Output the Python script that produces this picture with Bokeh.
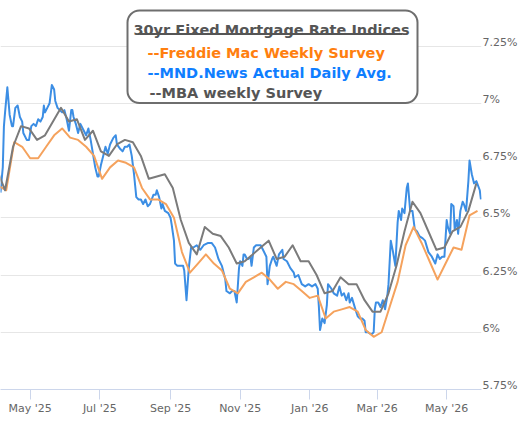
import pandas as pd
from bokeh.plotting import figure
from bokeh.models import (Range1d, LinearAxis, DatetimeAxis, FixedTicker, MonthsTicker,
                          DatetimeTickFormatter, Grid, BoxAnnotation, Label, ColumnDataSource)
from bokeh.embed import file_html
from bokeh.resources import INLINE

# ---------------- data ----------------
chart_title = "30yr Fixed Mortgage Rate Indices"
legend_labels = ["--Freddie Mac Weekly Survey", "--MND.News Actual Daily Avg.", "--MBA weekly Survey"]

# Freddie Mac weekly survey (Thursdays starting 2025-04-03)
freddie_first = "2025-04-03"
freddie_values = [6.64, 6.62, 6.83, 6.81, 6.76, 6.76, 6.81, 6.86, 6.89, 6.85,
                  6.84, 6.81, 6.77, 6.67, 6.72, 6.75, 6.74, 6.72, 6.63, 6.58,
                  6.58, 6.56, 6.50, 6.35, 6.26, 6.30, 6.34, 6.30, 6.27, 6.19,
                  6.17, 6.22, 6.24, 6.26, 6.23, 6.19, 6.22, 6.21, 6.18, 6.15,
                  6.16, 6.06, 6.09, 6.10, 6.11, 6.09, 6.01, 5.98, 6.00, 6.11,
                  6.22, 6.38, 6.46, 6.39, 6.31, 6.23, 6.30, 6.37, 6.36, 6.51,
                  6.53]

# MBA weekly survey (Wednesdays starting 2025-04-02)
mba_first = "2025-04-02"
mba_values = [6.71, 6.62, 6.81, 6.90, 6.89, 6.84, 6.86, 6.92, 6.98, 6.92,
              6.93, 6.84, 6.88, 6.79, 6.77, 6.82, 6.84, 6.83, 6.77, 6.67,
              6.68, 6.69, 6.63, 6.49, 6.39, 6.34, 6.46, 6.43, 6.42, 6.37,
              6.30, 6.31, 6.34, 6.37, 6.40, 6.32, 6.33, 6.38, 6.31, 6.31,
              6.25, 6.17, 6.18, 6.24, 6.21, 6.21, 6.14, 6.09, 6.09, 6.17,
              6.29, 6.44, 6.57, 6.52, 6.44, 6.36, 6.37, 6.44, 6.46, 6.53,
              6.65]

# MND daily index
mnd_dates = [
    "2025-04-05", "2025-04-07", "2025-04-08", "2025-04-09", "2025-04-11", "2025-04-13",
    "2025-04-15", "2025-04-16", "2025-04-18", "2025-04-20", "2025-04-22", "2025-04-24",
    "2025-04-25", "2025-04-28", "2025-04-30", "2025-05-02", "2025-05-04", "2025-05-06",
    "2025-05-08", "2025-05-10", "2025-05-12", "2025-05-13", "2025-05-14", "2025-05-16",
    "2025-05-18", "2025-05-20", "2025-05-22", "2025-05-23", "2025-05-25", "2025-05-27",
    "2025-05-29", "2025-05-31", "2025-06-02", "2025-06-04", "2025-06-06", "2025-06-07",
    "2025-06-08", "2025-06-10", "2025-06-12", "2025-06-14", "2025-06-17", "2025-06-19",
    "2025-06-21", "2025-06-23", "2025-06-25", "2025-06-27", "2025-06-29", "2025-06-30",
    "2025-07-02", "2025-07-04", "2025-07-06", "2025-07-08", "2025-07-10", "2025-07-13",
    "2025-07-15", "2025-07-16", "2025-07-19", "2025-07-21", "2025-07-23", "2025-07-25",
    "2025-07-27", "2025-07-29", "2025-07-31", "2025-08-02", "2025-08-04", "2025-08-06",
    "2025-08-08", "2025-08-10", "2025-08-12", "2025-08-14", "2025-08-17", "2025-08-19",
    "2025-08-20", "2025-08-22", "2025-08-24", "2025-08-25", "2025-08-27", "2025-08-30",
    "2025-09-01", "2025-09-02", "2025-09-04", "2025-09-05", "2025-09-07", "2025-09-10",
    "2025-09-12", "2025-09-13", "2025-09-15", "2025-09-17", "2025-09-19", "2025-09-21",
    "2025-09-24", "2025-09-27", "2025-09-30", "2025-10-04", "2025-10-07", "2025-10-10",
    "2025-10-13", "2025-10-16", "2025-10-19", "2025-10-20", "2025-10-23", "2025-10-25",
    "2025-10-27", "2025-10-29", "2025-10-31", "2025-11-01", "2025-11-03", "2025-11-04",
    "2025-11-05", "2025-11-07", "2025-11-08", "2025-11-10", "2025-11-11", "2025-11-13",
    "2025-11-15", "2025-11-17", "2025-11-19", "2025-11-21", "2025-11-24", "2025-11-25",
    "2025-11-27", "2025-11-29", "2025-11-30", "2025-12-03", "2025-12-05", "2025-12-08",
    "2025-12-09", "2025-12-12", "2025-12-15", "2025-12-18", "2025-12-19", "2025-12-22",
    "2025-12-25", "2025-12-28", "2025-12-31", "2026-01-03", "2026-01-06", "2026-01-08",
    "2026-01-09", "2026-01-10", "2026-01-12", "2026-01-14", "2026-01-16", "2026-01-17",
    "2026-01-20", "2026-01-22", "2026-01-25", "2026-01-27", "2026-01-29", "2026-01-31",
    "2026-02-02", "2026-02-04", "2026-02-05", "2026-02-07", "2026-02-10", "2026-02-12",
    "2026-02-14", "2026-02-16", "2026-02-18", "2026-02-19", "2026-02-21", "2026-02-24",
    "2026-02-26", "2026-02-27", "2026-02-28", "2026-03-02", "2026-03-04", "2026-03-06",
    "2026-03-08", "2026-03-10", "2026-03-11", "2026-03-13", "2026-03-15", "2026-03-17",
    "2026-03-19", "2026-03-20", "2026-03-22", "2026-03-23", "2026-03-25", "2026-03-27",
    "2026-03-28", "2026-03-30", "2026-04-01", "2026-04-03", "2026-04-05", "2026-04-07",
    "2026-04-10", "2026-04-12", "2026-04-15", "2026-04-18", "2026-04-21", "2026-04-23",
    "2026-04-25", "2026-04-27", "2026-04-29", "2026-05-01", "2026-05-02", "2026-05-04",
    "2026-05-05", "2026-05-07", "2026-05-08", "2026-05-10", "2026-05-11", "2026-05-13",
    "2026-05-15", "2026-05-16", "2026-05-18", "2026-05-20", "2026-05-21", "2026-05-23",
    "2026-05-25", "2026-05-27", "2026-05-30", "2026-05-31",
]
mnd_values = [
    6.61, 6.72, 6.90, 6.96, 7.07, 6.95,
    6.90, 6.90, 6.98, 6.99, 6.94, 6.92,
    6.87, 6.84, 6.84, 6.90, 6.91, 6.90,
    6.93, 6.92, 6.94, 6.99, 6.96, 6.98,
    7.00, 7.08, 7.06, 7.01, 6.98, 6.97,
    6.96, 6.97, 6.93, 6.88, 6.97, 6.97,
    6.94, 6.91, 6.87, 6.91, 6.88, 6.86,
    6.89, 6.84, 6.78, 6.72, 6.68, 6.68,
    6.73, 6.77, 6.81, 6.78, 6.82, 6.85,
    6.86, 6.82, 6.80, 6.79, 6.81, 6.81,
    6.82, 6.77, 6.69, 6.59, 6.58, 6.58,
    6.56, 6.58, 6.55, 6.56, 6.60, 6.60,
    6.62, 6.59, 6.54, 6.56, 6.53, 6.52,
    6.50, 6.47, 6.40, 6.30, 6.29, 6.29,
    6.29, 6.27, 6.14, 6.28, 6.37, 6.37,
    6.38, 6.36, 6.38, 6.39, 6.39, 6.37,
    6.32, 6.29, 6.23, 6.18, 6.17, 6.18,
    6.18, 6.13, 6.28, 6.31, 6.29, 6.34,
    6.34, 6.32, 6.32, 6.33, 6.29, 6.37,
    6.38, 6.38, 6.38, 6.36, 6.33, 6.21,
    6.29, 6.32, 6.33, 6.29, 6.34, 6.36,
    6.32, 6.31, 6.28, 6.26, 6.24, 6.25,
    6.21, 6.20, 6.21, 6.20, 6.21, 6.19,
    6.11, 6.01, 6.06, 6.04, 6.12, 6.21,
    6.19, 6.17, 6.16, 6.20, 6.16, 6.17,
    6.14, 6.17, 6.13, 6.15, 6.10, 6.07,
    6.06, 6.06, 6.05, 6.00, 6.00, 5.99,
    6.00, 6.10, 6.13, 6.13, 6.11, 6.14,
    6.10, 6.16, 6.21, 6.40, 6.35, 6.29,
    6.48, 6.53, 6.49, 6.54, 6.52, 6.63,
    6.65, 6.53, 6.53, 6.45, 6.44, 6.42,
    6.41, 6.40, 6.35, 6.33, 6.30, 6.34,
    6.32, 6.33, 6.33, 6.49, 6.46, 6.43,
    6.56, 6.55, 6.45, 6.49, 6.43, 6.53,
    6.57, 6.56, 6.53, 6.66, 6.75, 6.69,
    6.65, 6.66, 6.62, 6.58,
]

y_ticks = [5.75, 6.0, 6.25, 6.5, 6.75, 7.0, 7.25]
y_tick_labels = ["5.75%", "6%", "6.25%", "6.5%", "6.75%", "7%", "7.25%"]

# ---------------- styles ----------------
ORANGE_LINE = "#F5A25D"
BLUE_LINE = "#3C8EE4"
GRAY_LINE = "#7B7B7B"
ORANGE_TXT = "#FF7F0F"
BLUE_TXT = "#0F7EFF"
GRAY_TXT = "#555555"
AXIS_TXT = "#666666"

freddie_src = ColumnDataSource(dict(
    date=pd.date_range(freddie_first, periods=len(freddie_values), freq="7D"),
    value=freddie_values))
mba_src = ColumnDataSource(dict(
    date=pd.date_range(mba_first, periods=len(mba_values), freq="7D"),
    value=mba_values))
mnd_src = ColumnDataSource(dict(date=pd.to_datetime(mnd_dates), value=mnd_values))

y_lo, y_hi = 5.75, 7.4487
p = figure(width=525, height=421, output_backend="svg", toolbar_location=None,
           x_axis_type=None, y_axis_type=None,
           x_range=Range1d(pd.Timestamp("2025-04-05"), pd.Timestamp("2026-05-31 12:00")),
           y_range=Range1d(y_lo, y_hi),
           min_border_left=0, min_border_top=0, min_border_right=44, min_border_bottom=32)
p.outline_line_color = None
p.background_fill_color = "white"
p.border_fill_color = "white"

grid = Grid(dimension=1, ticker=FixedTicker(ticks=y_ticks),
            grid_line_color="#e6e6e6", grid_line_width=1)
p.add_layout(grid)

shift = 4.0 / 229.0
p.extra_y_ranges = {"lab": Range1d(y_lo - shift, y_hi - shift)}
yax = LinearAxis(y_range_name="lab", ticker=FixedTicker(ticks=y_ticks),
                 major_label_overrides={t: l for t, l in zip(y_ticks, y_tick_labels)},
                 axis_line_color=None, major_tick_line_color=None, minor_tick_line_color=None,
                 major_tick_out=0, major_tick_in=0, major_label_standoff=1,
                 major_label_text_font="DejaVu Sans", major_label_text_font_size="11px",
                 major_label_text_color=AXIS_TXT)
p.add_layout(yax, "right")

fmt = "%b '%y"
xax = DatetimeAxis(ticker=MonthsTicker(months=[0, 2, 4, 6, 8, 10]),
                   formatter=DatetimeTickFormatter(months=fmt, days=fmt, years=fmt),
                   axis_line_color="#ccd6eb", axis_line_width=1,
                   major_tick_line_color="#ccd6eb", major_tick_out=10, major_tick_in=0,
                   minor_tick_line_color=None, major_label_standoff=2,
                   major_label_text_font="DejaVu Sans", major_label_text_font_size="11px",
                   major_label_text_color=AXIS_TXT)
p.add_layout(xax, "below")

p.line("date", "value", source=mnd_src, line_color=BLUE_LINE, line_width=2, line_join="round")
p.line("date", "value", source=freddie_src, line_color=ORANGE_LINE, line_width=2, line_join="round")
p.line("date", "value", source=mba_src, line_color=GRAY_LINE, line_width=2, line_join="round")

# legend box (screen units: x from left, y from frame bottom; frame height 389)
FH = 389
box = BoxAnnotation(left=127, right=417, top=FH - 10, bottom=FH - 102.5,
                    left_units="screen", right_units="screen", top_units="screen", bottom_units="screen",
                    fill_color="white", fill_alpha=1.0, line_color="#6E6E6E", line_alpha=1.0,
                    line_width=2, border_radius=12)
p.add_layout(box)
underline = BoxAnnotation(left=139, right=402, top=FH - 32.5, bottom=FH - 34.5,
                          left_units="screen", right_units="screen", top_units="screen", bottom_units="screen",
                          fill_color=GRAY_TXT, fill_alpha=1.0, line_color=None)
p.add_layout(underline)

FONT = "DejaVu Sans"
FS = "14.5px"
p.add_layout(Label(x=271, y=FH - 29.3, x_units="screen", y_units="screen", text=chart_title,
                   text_align="center", text_baseline="alphabetic", text_font=FONT,
                   text_font_style="bold", text_font_size=FS, text_color=GRAY_TXT))
row_x = [147, 147, 149]
row_base = [52.3, 72.7, 92.7]
row_col = [ORANGE_TXT, BLUE_TXT, GRAY_TXT]
for lab, rx, rb, rc in zip(legend_labels, row_x, row_base, row_col):
    p.add_layout(Label(x=rx, y=FH - rb, x_units="screen", y_units="screen", text=lab,
                       text_align="left", text_baseline="alphabetic", text_font=FONT,
                       text_font_style="bold", text_font_size=FS, text_color=rc))

open("out.html", "w").write(file_html(p, INLINE))
